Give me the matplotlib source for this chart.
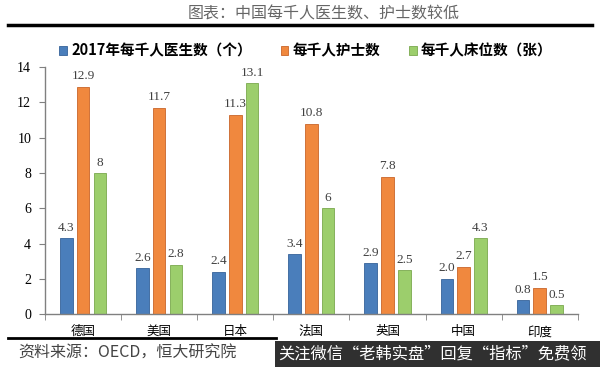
import numpy as np
import matplotlib
matplotlib.use('Agg')
import matplotlib.pyplot as plt
from matplotlib.patches import Rectangle

plt.rcParams['font.family'] = ['Noto Sans CJK SC', 'DejaVu Sans']

countries = ['德国', '美国', '日本', '法国', '英国', '中国', '印度']
series_names = ['2017年每千人医生数（个）', '每千人护士数', '每千人床位数（张）']
doctors = [4.3, 2.6, 2.4, 3.4, 2.9, 2.0, 0.8]
nurses = [12.9, 11.7, 11.3, 10.8, 7.8, 2.7, 1.5]
beds = [8, 2.8, 13.1, 6, 2.5, 4.3, 0.5]
doctor_labels = ['4.3', '2.6', '2.4', '3.4', '2.9', '2.0', '0.8']
nurse_labels = ['12.9', '11.7', '11.3', '10.8', '7.8', '2.7', '1.5']
bed_labels = ['8', '2.8', '13.1', '6', '2.5', '4.3', '0.5']

colors = ['#4a7ebb', '#f0883e', '#9cce6c']
edges = ['#36629a', '#c9652a', '#7aa84d']

fig = plt.figure(figsize=(6, 3.67), dpi=100)
ax = fig.add_axes([0.075, 0.144, 0.888, 0.673])

x = np.arange(len(countries))
w = 0.165
offsets = [-0.22, 0.0, 0.22]
data = [doctors, nurses, beds]
labels = [doctor_labels, nurse_labels, bed_labels]
for i in range(3):
    ax.bar(x + offsets[i], data[i], width=w, color=colors[i], edgecolor=edges[i],
           linewidth=0.6, label=series_names[i], zorder=2)
    for xi, v, s in zip(x, data[i], labels[i]):
        ax.text(xi + offsets[i], v + 0.25, s, ha='center', va='bottom',
                fontsize=9.5, color='#404040', family=['Liberation Serif', 'DejaVu Serif'])

ax.set_xlim(-0.5, len(countries) - 0.5)
ax.set_ylim(0, 14)
ax.set_yticks(range(0, 15, 2))
ax.set_yticklabels([str(v) for v in range(0, 15, 2)],
                   family=['Liberation Serif', 'DejaVu Serif'], fontsize=10)
ax.set_xticks(x)
ax.set_xticklabels(countries, fontsize=9)
ax.set_xticks(np.arange(-0.5, len(countries), 1), minor=True)
ax.tick_params(axis='x', which='major', length=0, pad=8)
ax.tick_params(axis='x', which='minor', length=4, color='#808080', direction='out')
ax.tick_params(axis='y', length=4, color='#808080', direction='out', pad=6)
for side in ['top', 'right']:
    ax.spines[side].set_visible(False)
for side in ['left', 'bottom']:
    ax.spines[side].set_color('#808080')
    ax.spines[side].set_linewidth(1.0)

leg = fig.legend(loc='center', bbox_to_anchor=(0.51, 0.862), ncol=3, frameon=False,
                 handlelength=0.5, handleheight=0.5, handletextpad=0.3,
                 columnspacing=2.0, prop={'weight': 'bold', 'size': 10.5})

# title and decorative rules
fig.text(0.54, 0.962, '图表：中国每千人医生数、护士数较低', ha='center', va='center',
         fontsize=11.5, color='#666666')
fig.add_artist(plt.Line2D([0.013, 0.987], [0.932, 0.932], color='black', lw=2.5))
fig.add_artist(plt.Line2D([0.013, 0.46], [0.079, 0.079], color='black', lw=2.0))
fig.text(0.03, 0.038, '资料来源：OECD，恒大研究院', ha='left', va='center',
         fontsize=11.5, color='#444444', style='italic')

# watermark banner
fig.add_artist(Rectangle((0.458, 0.0), 0.542, 0.072, transform=fig.transFigure,
                         facecolor='#1e1e1e', edgecolor='none', alpha=0.92))
fig.text(0.463, 0.036, '关注微信“老韩实盘”回复“指标”免费领', ha='left', va='center',
         fontsize=11.7, color='white')

fig.savefig('out.png', dpi=100)
